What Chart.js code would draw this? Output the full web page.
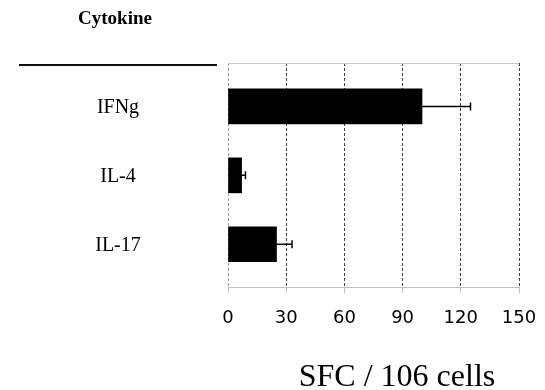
<!DOCTYPE html>
<html>
<head>
<meta charset="utf-8">
<script src="https://cdn.jsdelivr.net/npm/chart.js@4/dist/chart.umd.min.js"></script>
<style>
  html, body { margin: 0; padding: 0; background: #ffffff; }
  #wrap { width: 545px; height: 390px; position: relative; }
</style>
</head>
<body>
<div id="wrap"><canvas id="c" width="545" height="390"></canvas></div>
<script>
// ---- data ----
const categories = ["IFNg", "IL-4", "IL-17"];
const values = [100, 7, 25];
const errors = [25, 2, 8];
const xTicks = [0, 30, 60, 90, 120, 150];
const headerText = "Cytokine";
const axisTitle = "SFC / 106 cells";

const serif = '"Liberation Serif", "Times New Roman", serif';

const decor = {
  id: 'decor',
  afterDatasetsDraw(chart) {
    const ctx = chart.ctx;
    const xs = chart.scales.x, ys = chart.scales.y;
    const area = chart.chartArea;
    ctx.save();
    // top border of plot
    ctx.strokeStyle = '#c8c8c8';
    ctx.lineWidth = 1;
    ctx.beginPath();
    ctx.moveTo(area.left, Math.round(area.top) + 0.5);
    ctx.lineTo(area.right, Math.round(area.top) + 0.5);
    ctx.stroke();
    // error bars
    ctx.strokeStyle = '#000';
    ctx.lineWidth = 1.5;
    values.forEach((v, i) => {
      const x0 = xs.getPixelForValue(v);
      const x1 = xs.getPixelForValue(v + errors[i]);
      const y = ys.getPixelForValue(i);
      ctx.beginPath();
      ctx.moveTo(x0, y);
      ctx.lineTo(x1, y);
      ctx.moveTo(x1, y - 4);
      ctx.lineTo(x1, y + 4);
      ctx.stroke();
    });
    // left header rule
    ctx.strokeStyle = '#111';
    ctx.lineWidth = 2;
    ctx.beginPath();
    ctx.moveTo(19, 65);
    ctx.lineTo(217, 65);
    ctx.stroke();
    // header
    ctx.fillStyle = '#000';
    ctx.textAlign = 'center';
    ctx.textBaseline = 'alphabetic';
    ctx.font = 'bold 19px ' + serif;
    ctx.fillText(headerText, 115, 24);
    // category labels
    ctx.font = '20px ' + serif;
    categories.forEach((c, i) => {
      const y = ys.getPixelForValue(i);
      ctx.fillText(c, 118, y + 6.5);
    });
    // axis title
    ctx.font = '32px ' + serif;
    ctx.fillText(axisTitle, 397, 386);
    ctx.restore();
  }
};

new Chart(document.getElementById('c'), {
  type: 'bar',
  data: {
    datasets: [{
      data: values.map((v, i) => ({ x: v, y: i })),
      backgroundColor: '#000',
      borderWidth: 0,
      barThickness: 35
    }]
  },
  options: {
    indexAxis: 'y',
    responsive: false,
    animation: false,
    devicePixelRatio: 1,
    layout: { padding: { left: 228, top: 63, right: 26, bottom: 0 } },
    plugins: { legend: { display: false }, tooltip: { enabled: false }, title: { display: false } },
    scales: {
      y: {
        type: 'linear',
        reverse: true,
        offset: false,
        min: -0.63,
        max: 2.62,
        display: false
      },
      x: {
        type: 'linear',
        min: xTicks[0],
        max: xTicks[xTicks.length - 1],
        afterBuildTicks(scale) { scale.ticks = xTicks.map(v => ({ value: v })); },
        afterFit(scale) {
          scale.height = 390 - 287;
          scale.paddingLeft = 0;
          scale.paddingRight = 0;
        },
        border: { display: true, color: '#c0c0c0', width: 1, dash: [3, 2] },
        grid: {
          display: true,
          drawOnChartArea: true,
          drawTicks: true,
          tickLength: 6,
          tickColor: '#c0c0c0',
          tickBorderDash: [],
          color: (c) => (c.tick && c.tick.value === 0) ? '#9a9a9a' : '#404040',
          lineWidth: 1
        },
        ticks: {
          color: '#000',
          padding: 15,
          font: { family: '"DejaVu Sans", Verdana, sans-serif', size: 18 },
          maxRotation: 0
        }
      }
    }
  },
  plugins: [decor]
});
</script>
</body>
</html>
